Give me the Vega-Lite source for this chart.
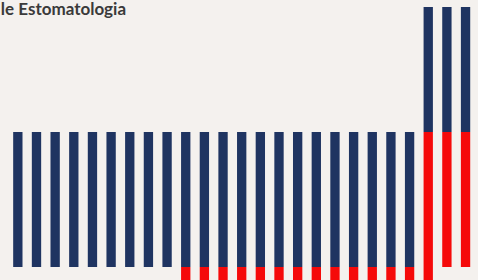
{
  "$schema": "https://vega.github.io/schema/vega-lite/v6.json",
  "autosize": {"type": "fit", "contains": "padding"},
  "width": 478,
  "height": 280,
  "padding": 0,
  "background": "#f4f1ee",
  "config": {"view": {"stroke": null}},
  "layer": [
    {
      "data": {
        "values": [
          {"i": 1, "seg": "navy", "start": 13, "end": 148},
          {"i": 2, "seg": "navy", "start": 13, "end": 148},
          {"i": 3, "seg": "navy", "start": 13, "end": 148},
          {"i": 4, "seg": "navy", "start": 13, "end": 148},
          {"i": 5, "seg": "navy", "start": 13, "end": 148},
          {"i": 6, "seg": "navy", "start": 13, "end": 148},
          {"i": 7, "seg": "navy", "start": 13, "end": 148},
          {"i": 8, "seg": "navy", "start": 13, "end": 148},
          {"i": 9, "seg": "navy", "start": 13, "end": 148},
          {"i": 10, "seg": "navy", "start": 13, "end": 148},
          {"i": 10, "seg": "red", "start": 0, "end": 13},
          {"i": 11, "seg": "navy", "start": 13, "end": 148},
          {"i": 11, "seg": "red", "start": 0, "end": 13},
          {"i": 12, "seg": "navy", "start": 13, "end": 148},
          {"i": 12, "seg": "red", "start": 0, "end": 13},
          {"i": 13, "seg": "navy", "start": 13, "end": 148},
          {"i": 13, "seg": "red", "start": 0, "end": 13},
          {"i": 14, "seg": "navy", "start": 13, "end": 148},
          {"i": 14, "seg": "red", "start": 0, "end": 13},
          {"i": 15, "seg": "navy", "start": 13, "end": 148},
          {"i": 15, "seg": "red", "start": 0, "end": 13},
          {"i": 16, "seg": "navy", "start": 13, "end": 148},
          {"i": 16, "seg": "red", "start": 0, "end": 13},
          {"i": 17, "seg": "navy", "start": 13, "end": 148},
          {"i": 17, "seg": "red", "start": 0, "end": 13},
          {"i": 18, "seg": "navy", "start": 13, "end": 148},
          {"i": 18, "seg": "red", "start": 0, "end": 13},
          {"i": 19, "seg": "navy", "start": 13, "end": 148},
          {"i": 19, "seg": "red", "start": 0, "end": 13},
          {"i": 20, "seg": "navy", "start": 13, "end": 148},
          {"i": 20, "seg": "red", "start": 0, "end": 13},
          {"i": 21, "seg": "navy", "start": 13, "end": 148},
          {"i": 21, "seg": "red", "start": 0, "end": 13},
          {"i": 22, "seg": "navy", "start": 13, "end": 148},
          {"i": 22, "seg": "red", "start": 0, "end": 13},
          {"i": 23, "seg": "navy", "start": 148, "end": 273},
          {"i": 23, "seg": "red", "start": 0, "end": 148},
          {"i": 24, "seg": "navy", "start": 148, "end": 273},
          {"i": 24, "seg": "red", "start": 13, "end": 148},
          {"i": 25, "seg": "navy", "start": 148, "end": 273},
          {"i": 25, "seg": "red", "start": 13, "end": 148}
        ]
      },
      "mark": {"type": "bar"},
      "encoding": {
        "x": {
          "field": "i",
          "type": "ordinal",
          "axis": null,
          "scale": {"paddingInner": 0.5, "paddingOuter": 0.535, "align": 0.61}
        },
        "y": {
          "field": "start",
          "type": "quantitative",
          "axis": null,
          "scale": {"domain": [0, 280], "nice": false, "zero": false}
        },
        "y2": {"field": "end"},
        "color": {
          "field": "seg",
          "type": "nominal",
          "legend": null,
          "scale": {"domain": ["navy", "red"], "range": ["#1f3461", "#f50a0a"]}
        }
      }
    },
    {
      "data": {"values": [{"i": 1, "v": 265, "label": "le Estomatologia"}]},
      "mark": {
        "type": "text",
        "align": "left",
        "baseline": "alphabetic",
        "dx": -17,
        "font": "Lato",
        "fontSize": 17,
        "fontWeight": "bold",
        "color": "#3a3a3a"
      },
      "encoding": {
        "x": {"field": "i", "type": "ordinal"},
        "y": {"field": "v", "type": "quantitative"},
        "text": {"field": "label"}
      }
    }
  ]
}
